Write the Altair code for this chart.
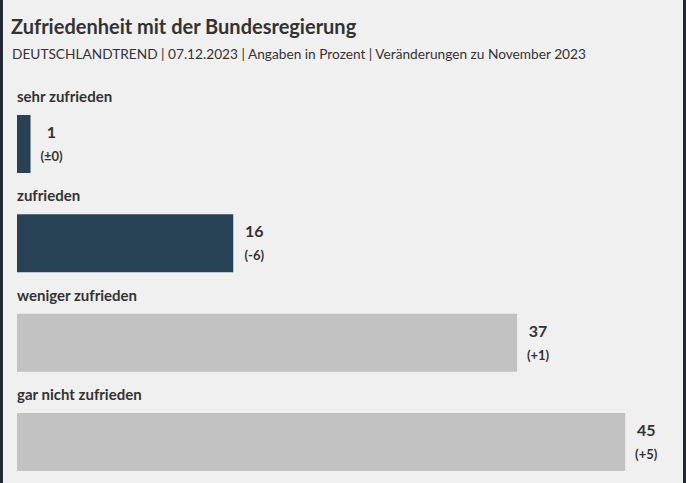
import altair as alt
import pandas as pd

# Survey answers (percent) and change versus November 2023
categories = ["sehr zufrieden", "zufrieden", "weniger zufrieden", "gar nicht zufrieden"]
values = [1, 16, 37, 45]
changes = ["(±0)", "(-6)", "(+1)", "(+5)"]
groups = ["positiv", "positiv", "negativ", "negativ"]

title_text = "Zufriedenheit mit der Bundesregierung"
subtitle_text = "DEUTSCHLANDTREND | 07.12.2023 | Angaben in Prozent | Veränderungen zu November 2023"

df = pd.DataFrame({
    "kategorie": categories,
    "wert": values,
    "veraenderung": changes,
    "gruppe": groups,
})

FONT = "Lato"
BG = "#f1f0f0"
TEXT = "#333333"

x_scale = alt.Scale(domain=[0, 49.5], nice=False, zero=True)
y_scale = alt.Scale(domain=categories, range=[14.3, 411.7], paddingInner=0, paddingOuter=0)

base = alt.Chart(df).encode(
    y=alt.Y("kategorie:N", scale=y_scale, axis=None, sort=categories),
)

bars = base.mark_bar(size=58).encode(
    x=alt.X("wert:Q", scale=x_scale, axis=None),
    color=alt.Color(
        "gruppe:N",
        scale=alt.Scale(domain=["positiv", "negativ"], range=["#284255", "#c2c2c2"]),
        legend=None,
    ),
)

cat_labels = base.mark_text(
    align="left", baseline="middle", dy=-47, font=FONT, fontSize=15,
    fontWeight="bold", color=TEXT,
).encode(
    x=alt.datum(0, scale=x_scale),
    text="kategorie:N",
)

value_labels = base.mark_text(
    align="center", baseline="middle", dx=21, dy=-11, font=FONT, fontSize=16,
    fontWeight="bold", color=TEXT,
).encode(
    x=alt.X("wert:Q", scale=x_scale),
    text="wert:Q",
)

change_labels = base.mark_text(
    align="center", baseline="middle", dx=21, dy=13, font=FONT, fontSize=13,
    fontWeight="bold", color=TEXT,
).encode(
    x=alt.X("wert:Q", scale=x_scale),
    text="veraenderung:N",
)

# heading and sub-heading above the bars
heading = alt.Chart(pd.DataFrame({"t": [title_text]})).mark_text(
    align="left", baseline="middle", font=FONT, fontSize=20, fontWeight="bold", color=TEXT,
).encode(x=alt.value(-6), y=alt.value(-52), text="t:N")

subheading = alt.Chart(pd.DataFrame({"t": [subtitle_text]})).mark_text(
    align="left", baseline="middle", font=FONT, fontSize=13.7, color=TEXT,
).encode(x=alt.value(-5), y=alt.value(-25), text="t:N")

# dark frame lines on the left and right edge of the graphic
frame_left = alt.Chart(df).mark_rule(color="#1f2733", strokeWidth=3).encode(
    x=alt.value(-16), y=alt.value(-80), y2=alt.value(403)
)
frame_right = alt.Chart(df).mark_rule(color="#1f2733", strokeWidth=3).encode(
    x=alt.value(667.5), y=alt.value(-80), y2=alt.value(403)
)

chart = alt.layer(
    bars, cat_labels, value_labels, change_labels, heading, subheading, frame_left, frame_right
).properties(
    width=669,
    height=403,
    autosize=alt.AutoSizeParams(type="none"),
    padding={"left": 17, "top": 80, "right": 0, "bottom": 0},
    background=BG,
).configure_view(stroke=None)

chart.save("out.html", embed_options={"renderer": "svg", "actions": False})
